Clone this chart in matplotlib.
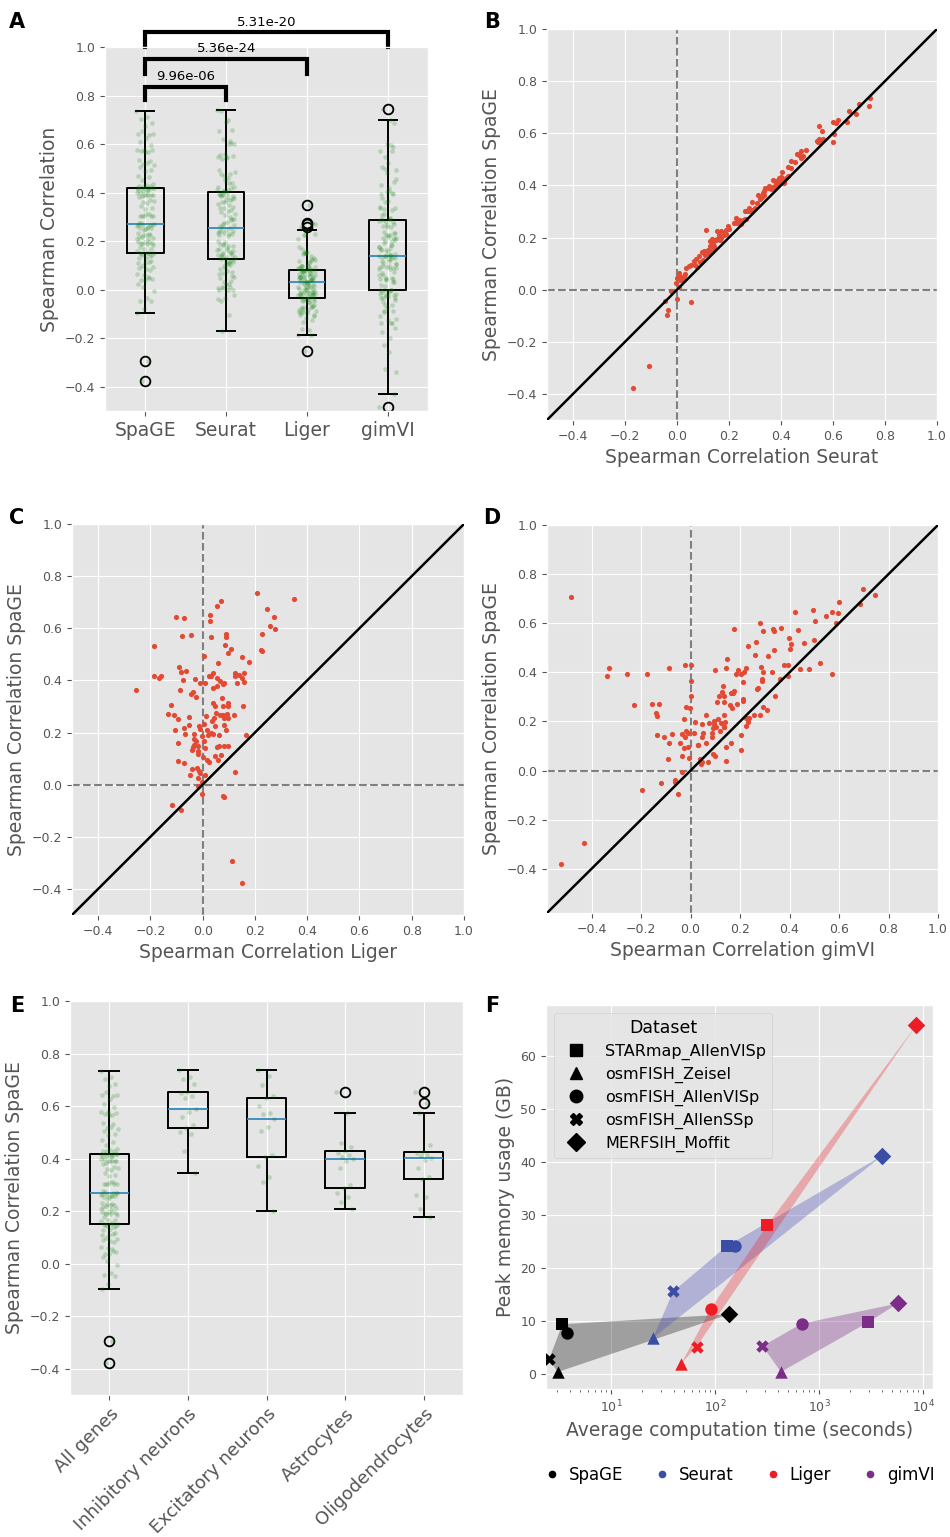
import numpy as np
import matplotlib.pyplot as plt
from matplotlib.lines import Line2D

plt.style.use('ggplot')
plt.rcParams['font.family'] = 'DejaVu Sans'

spage = [0.735, 0.712, 0.704, 0.685, 0.675, 0.643, 0.638, 0.652, 0.642, 0.627,
         0.608, 0.597, 0.577, 0.577, 0.567, 0.571, 0.575, 0.566, 0.536, 0.531,
         0.518, 0.513, 0.522, 0.506, 0.494, 0.490, 0.470, 0.465, 0.451, 0.437,
         0.431, 0.429, 0.429, 0.429, 0.417, 0.411, 0.417, 0.418, 0.418, 0.410,
         0.419, 0.408, 0.417, 0.405, 0.400, 0.391, 0.391, 0.399, 0.391, 0.385,
         0.391, 0.392, 0.380, 0.369, 0.362, 0.364, 0.357, 0.346, 0.338, 0.332,
         0.266, 0.312, 0.303, 0.303, 0.312, 0.303, 0.304, 0.302, 0.262, 0.258,
         0.273, 0.268, 0.252, 0.276, 0.268, 0.266, 0.270, 0.256, 0.255, 0.256,
         0.245, 0.232, 0.228, 0.219, 0.211, 0.224, 0.215, 0.225, 0.227, 0.210,
         0.209, 0.192, 0.194, 0.196, 0.197, 0.196, 0.189, 0.185, 0.189, 0.177,
         0.167, 0.166, 0.161, 0.153, 0.148, 0.144, 0.132, 0.130, 0.139, 0.144,
         0.150, 0.150, 0.150, 0.117, 0.108, 0.110, 0.113, 0.096, 0.093, 0.087,
         0.089, 0.083, 0.061, 0.064, 0.054, 0.038, 0.046, 0.038, 0.024, 0.047,
         0.009, -0.006, -0.036, -0.045, -0.048, -0.079, -0.097, -0.293, -0.378]

liger = [0.208, 0.348, 0.070, 0.053, 0.246, -0.103, -0.072, 0.027, 0.272, 0.027,
         0.257, 0.276, 0.227, 0.090, 0.090, -0.078, -0.046, 0.030, 0.084, -0.186,
         0.225, 0.228, 0.110, 0.096, 0.004, 0.151, 0.177, 0.057, -0.090, -0.063,
         -0.084, 0.041, 0.125, 0.157, -0.185, -0.168, -0.161, 0.023, 0.033, 0.053,
         0.138, 0.151, 0.124, -0.028, -0.077, -0.009, 0.010, 0.066, 0.080, 0.077,
         0.132, 0.157, 0.053, 0.039, -0.254, -0.087, -0.037, -0.044, -0.024, 0.075,
         0.120, 0.041, 0.046, 0.076, 0.096, 0.096, -0.123, 0.153, 0.013, -0.052,
         -0.132, -0.108, -0.095, 0.052, 0.065, 0.076, 0.092, 0.096, 0.081, 0.042,
         0.034, 0.004, -0.053, -0.073, -0.105, -0.013, -0.011, 0.046, 0.081, 0.089,
         0.016, 0.167, -0.067, -0.035, 0.032, 0.039, 0.022, -0.004, 0.062, -0.032,
         -0.024, 0.004, -0.094, -0.032, -0.019, -0.038, -0.041, -0.016, 0.010, 0.053,
         0.061, 0.080, 0.096, -0.019, 0.000, 0.048, 0.070, 0.059, 0.016, 0.025,
         -0.095, -0.072, -0.039, -0.020, -0.015, -0.047, -0.009, 0.010, -0.018, 0.123,
         -0.004, -0.019, -0.003, 0.077, 0.081, -0.116, -0.084, 0.114, 0.149]

seurat = [0.742, 0.700, 0.738, 0.660, 0.690, 0.655, 0.612, 0.620, 0.600, 0.548,
          0.556, 0.603, 0.560, 0.545, 0.600, 0.538, 0.552, 0.542, 0.495, 0.478,
          0.470, 0.485, 0.462, 0.478, 0.440, 0.452, 0.425, 0.440, 0.405, 0.425,
          0.400, 0.392, 0.418, 0.405, 0.410, 0.412, 0.395, 0.385, 0.405, 0.395,
          0.370, 0.390, 0.378, 0.382, 0.385, 0.372, 0.360, 0.352, 0.350, 0.360,
          0.340, 0.368, 0.335, 0.330, 0.335, 0.312, 0.325, 0.318, 0.290, 0.308,
          0.240, 0.300, 0.270, 0.290, 0.277, 0.263, 0.287, 0.275, 0.235, 0.230,
          0.260, 0.240, 0.247, 0.227, 0.255, 0.233, 0.265, 0.220, 0.241, 0.229,
          0.195, 0.200, 0.111, 0.185, 0.180, 0.170, 0.190, 0.152, 0.188, 0.162,
          0.180, 0.145, 0.160, 0.135, 0.168, 0.155, 0.150, 0.125, 0.165, 0.140,
          0.142, 0.127, 0.144, 0.120, 0.136, 0.116, 0.108, 0.084, 0.120, 0.096,
          0.134, 0.104, 0.127, 0.074, 0.090, 0.064, 0.100, 0.070, 0.052, 0.078,
          0.048, 0.034, 0.030, 0.008, 0.025, 0.010, 0.000, 0.022, -0.002, 0.012,
          0.008, -0.022, -0.001, -0.048, 0.055, -0.033, -0.039, -0.106, -0.169]

# panel D points (gimVI vs SpaGE)
gimvi = [-0.485, 0.698, 0.745, 0.686, 0.600, 0.571, 0.597, 0.546, 0.495, 0.421,
         0.504, 0.586, 0.280, 0.175, 0.294, 0.333, 0.337, 0.367, 0.433, 0.398,
         0.497, 0.458, 0.407, 0.264, 0.233, 0.401, 0.336, 0.259, 0.313, 0.148,
         0.524, 0.376, 0.393, 0.225, 0.284, 0.143, 0.099, 0.442, 0.479, 0.395,
         0.571, -0.328, -0.339, -0.257, -0.176, -0.089, -0.022, 0.000, 0.184, 0.192,
         0.203, 0.218, 0.293, 0.329, 0.363, 0.212, 0.290, 0.288, 0.272, 0.267,
         0.342, 0.000, 0.000, 0.132, 0.128, 0.117, 0.134, 0.164, 0.177, 0.171,
         0.212, 0.212, 0.160, 0.167, 0.186, 0.137, 0.105, 0.292, 0.307, 0.280,
         0.258, -0.017, -0.003, -0.229, -0.157, -0.126, -0.138, -0.136, -0.027, 0.062,
         0.137, 0.109, 0.074, 0.093, 0.094, 0.125, 0.140, 0.104, 0.118, 0.134,
         0.091, 0.048, 0.137, 0.226, 0.238, 0.234, 0.226, 0.020, 0.050, 0.016,
         -0.017, -0.011, -0.036, -0.023, -0.075, -0.108, -0.136, -0.087, -0.044, -0.025,
         -0.009, 0.031, 0.046, 0.087, 0.087, 0.061, 0.030, 0.144, 0.164, 0.202,
         0.202, 0.089, 0.099, 0.069, 0.046, 0.038, 0.044, 0.144, -0.090, -0.036,
         -0.005, -0.035, -0.063, -0.062, -0.121, -0.198, -0.050, -0.430, -0.522]

spage_d = [0.707, 0.739, 0.715, 0.678, 0.688, 0.645, 0.641, 0.631, 0.654, 0.645,
           0.609, 0.601, 0.599, 0.577, 0.568, 0.578, 0.569, 0.580, 0.572, 0.539,
           0.532, 0.520, 0.516, 0.524, 0.508, 0.495, 0.492, 0.472, 0.466, 0.453,
           0.439, 0.431, 0.431, 0.419, 0.422, 0.419, 0.411, 0.414, 0.412, 0.384,
           0.393, 0.418, 0.386, 0.393, 0.393, 0.419, 0.431, 0.431, 0.395, 0.408,
           0.395, 0.403, 0.400, 0.403, 0.372, 0.359, 0.372, 0.365, 0.335, 0.334,
           0.303, 0.365, 0.304, 0.346, 0.319, 0.304, 0.304, 0.314, 0.326, 0.315,
           0.291, 0.285, 0.268, 0.254, 0.272, 0.278, 0.280, 0.257, 0.246, 0.227,
           0.228, 0.258, 0.254, 0.269, 0.273, 0.273, 0.235, 0.222, 0.211, 0.227,
           0.226, 0.212, 0.195, 0.200, 0.189, 0.192, 0.197, 0.177, 0.162, 0.176,
           0.172, 0.188, 0.176, 0.214, 0.214, 0.199, 0.182, 0.197, 0.154, 0.154,
           0.162, 0.151, 0.150, 0.136, 0.150, 0.138, 0.145, 0.111, 0.114, 0.091,
           0.096, 0.103, 0.138, 0.151, 0.135, 0.111, 0.104, 0.096, 0.114, 0.143,
           0.084, 0.066, 0.061, 0.036, 0.036, 0.047, 0.028, 0.038, 0.049, 0.059,
           0.051, -0.007, -0.039, -0.045, -0.049, -0.078, -0.097, -0.295, -0.380]

# panel E: SpaGE correlation of cell type marker genes
inhib = [0.737, 0.712, 0.703, 0.685, 0.653, 0.648, 0.640, 0.632, 0.589, 0.578,
         0.560, 0.528, 0.515, 0.503, 0.492, 0.430, 0.347]
excit = [0.737, 0.715, 0.680, 0.640, 0.631, 0.600, 0.575, 0.570, 0.552, 0.520,
         0.505, 0.412, 0.406, 0.370, 0.330, 0.310, 0.201]
astro = [0.653, 0.573, 0.460, 0.445, 0.430, 0.420, 0.415, 0.405, 0.399, 0.390,
         0.365, 0.300, 0.287, 0.270, 0.255, 0.235, 0.209]
oligo = [0.653, 0.610, 0.573, 0.450, 0.426, 0.420, 0.415, 0.410, 0.403, 0.395,
         0.365, 0.330, 0.321, 0.260, 0.255, 0.210, 0.176]
cell_types = ['All genes', 'Inhibitory neurons', 'Excitatory neurons', 'Astrocytes', 'Oligodendrocytes']

methods = ['SpaGE', 'Seurat', 'Liger', 'gimVI']
pvals = ['9.96e-06', '5.36e-24', '5.31e-20']

# panel F: time (s) and peak memory (GB) per dataset
datasets = ['STARmap_AllenVISp', 'osmFISH_Zeisel', 'osmFISH_AllenVISp', 'osmFISH_AllenSSp', 'MERFSIH_Moffit']
time_spage = [3.4, 3.07, 3.8, 2.54, 137]
mem_spage = [9.4, 0.4, 7.7, 2.8, 11.3]
time_seurat = [129, 25.3, 155, 39.7, 4070]
mem_seurat = [24.1, 6.8, 24.2, 15.6, 41.2]
time_liger = [318, 47.4, 90.6, 66.5, 8630]
mem_liger = [28.1, 2.0, 12.3, 5.2, 65.8]
time_gimvi = [2985, 430, 679, 286, 5750]
mem_gimvi = [9.8, 0.4, 9.5, 5.3, 13.35]

fig = plt.figure(figsize=(9.5, 15.37), dpi=100)


def add_ax(x0, y0, x1, y1):
    return fig.add_axes([x0 / 950, 1 - y1 / 1537, (x1 - x0) / 950, (y1 - y0) / 1537])


def jitter(n, center, spread=0.11):
    return center + ((np.arange(n) * 0.618034) % 1 - 0.5) * 2 * spread


box_kw = dict(boxprops=dict(color='black', linewidth=1.4),
              whiskerprops=dict(color='black', linewidth=1.4),
              capprops=dict(color='black', linewidth=1.4),
              medianprops=dict(linewidth=1.3),
              flierprops=dict(marker='o', markerfacecolor='none', markeredgecolor='black',
                              markersize=7, markeredgewidth=1.3))


def strip_box(ax, groups):
    ax.boxplot(groups, **box_kw)
    for i, g in enumerate(groups):
        ax.scatter(jitter(len(g), i + 1), g, s=11, color='green', alpha=0.2, lw=0, zorder=3)
    ax.set_ylim(-0.5, 1.0)
    ax.tick_params(axis='y', labelsize=9)


# ---- A
axA = add_ax(105, 47, 428, 411)
strip_box(axA, [spage, seurat, liger, gimvi])
axA.set_xticklabels(methods, fontsize=13.5)
axA.set_ylabel('Spearman Correlation', fontsize=13.5)
for (b, lo, hi), p in zip([(2, 0.78, 0.835), (3, 0.89, 0.95), (4, 1.0, 1.06)], pvals):
    axA.plot([1, 1, b, b], [lo, hi, hi, lo], color='black', lw=3, clip_on=False,
             solid_joinstyle='miter')
    axA.text((1 + b) / 2, hi + 0.015, p, ha='center', va='bottom', fontsize=9.5, color='black')


# ---- B, C, D
def corr_scatter(ax, x, y, xlabel, lim):
    ax.scatter(x, y, s=14, color='#E24A33', lw=0, zorder=3)
    ax.plot([lim, 1], [lim, 1], color='black', lw=1.8, zorder=4)
    ax.axhline(0, color='#808080', ls='--', lw=1.5, zorder=2)
    ax.axvline(0, color='#808080', ls='--', lw=1.5, zorder=2)
    ticks = np.round(np.arange(-0.4, 1.01, 0.2), 1)
    ax.set_xticks(ticks)
    ax.set_yticks(ticks)
    ax.set_xlim(lim, 1)
    ax.set_ylim(lim, 1)
    ax.tick_params(labelsize=9)
    ax.set_xlabel(xlabel, fontsize=13.5)
    ax.set_ylabel('Spearman Correlation SpaGE', fontsize=13.5)


corr_scatter(add_ax(547, 29, 937, 420), seurat, spage, 'Spearman Correlation Seurat', -0.5)
corr_scatter(add_ax(72, 524, 464, 915), liger, spage, 'Spearman Correlation Liger', -0.5)
corr_scatter(add_ax(547, 525, 938, 913), gimvi, spage_d, 'Spearman Correlation gimVI', -0.58)

# ---- E
axE = add_ax(70, 1001, 463, 1395)
strip_box(axE, [spage, inhib, excit, astro, oligo])
axE.set_xticklabels(cell_types, fontsize=13, rotation=45, ha='right', rotation_mode='anchor')
axE.set_ylabel('Spearman Correlation SpaGE', fontsize=13.5)


# ---- F
def hull(px, py):
    pts = sorted(zip(px, py))

    def cross(o, a, b):
        return (a[0] - o[0]) * (b[1] - o[1]) - (a[1] - o[1]) * (b[0] - o[0])
    lower, upper = [], []
    for p in pts:
        while len(lower) >= 2 and cross(lower[-2], lower[-1], p) <= 0:
            lower.pop()
        lower.append(p)
    for p in reversed(pts):
        while len(upper) >= 2 and cross(upper[-2], upper[-1], p) <= 0:
            upper.pop()
        upper.append(p)
    return np.array(lower[:-1] + upper[:-1])


axF = add_ax(546, 1005, 933, 1389)
axF.set_xscale('log')
times = [time_spage, time_seurat, time_liger, time_gimvi]
mems = [mem_spage, mem_seurat, mem_liger, mem_gimvi]
colors = ['black', '#3A4EA6', '#EE1C25', '#7B2D88']
fills = [('black', 0.3), ('#5050B8', 0.35), ('#EE1C25', 0.3), ('#7B2D88', 0.35)]
markers = ['s', '^', 'o', 'X', 'D']
for t, m, (fc, fa) in zip(times, mems, fills):
    h = hull(np.log10(t), m)
    axF.fill(10 ** h[:, 0], h[:, 1], color=fc, alpha=fa, lw=0, zorder=2)
for t, m, c in zip(times, mems, colors):
    for ti, mi, mk in zip(t, m, markers):
        axF.scatter(ti, mi, marker=mk, s=80, color=c, lw=0, zorder=3)
axF.set_xlim(2.37, 12470)
axF.set_ylim(-2.8, 69.6)
axF.set_yticks([0, 10, 20, 30, 40, 50, 60])
axF.tick_params(labelsize=9)
axF.set_xlabel('Average computation time (seconds)', fontsize=13.5)
axF.set_ylabel('Peak memory usage (GB)', fontsize=13.5)
ds_handles = [Line2D([], [], marker=mk, ls='', color='black', markersize=9) for mk in markers]
axF.legend(ds_handles, datasets, loc='upper left', title='Dataset', fontsize=11.5,
           title_fontsize=12.5, labelspacing=0.42)
m_handles = [Line2D([], [], marker='o', ls='', color=c, markersize=4.5) for c in colors]
fig.legend(m_handles, methods, loc='center', bbox_to_anchor=(739 / 950, 1 - 1475 / 1537),
           ncol=4, frameon=False, fontsize=12, handlelength=1, handletextpad=0.5,
           columnspacing=1.85)

for letter, x, y in [('A', 17, 22), ('B', 492, 22), ('C', 17, 518), ('D', 492, 518),
                     ('E', 17, 1006), ('F', 492, 1006)]:
    fig.text(x / 950, 1 - y / 1537, letter, fontsize=15, fontweight='bold', ha='center', va='center')

fig.savefig('out.png', dpi=100, facecolor='white')
